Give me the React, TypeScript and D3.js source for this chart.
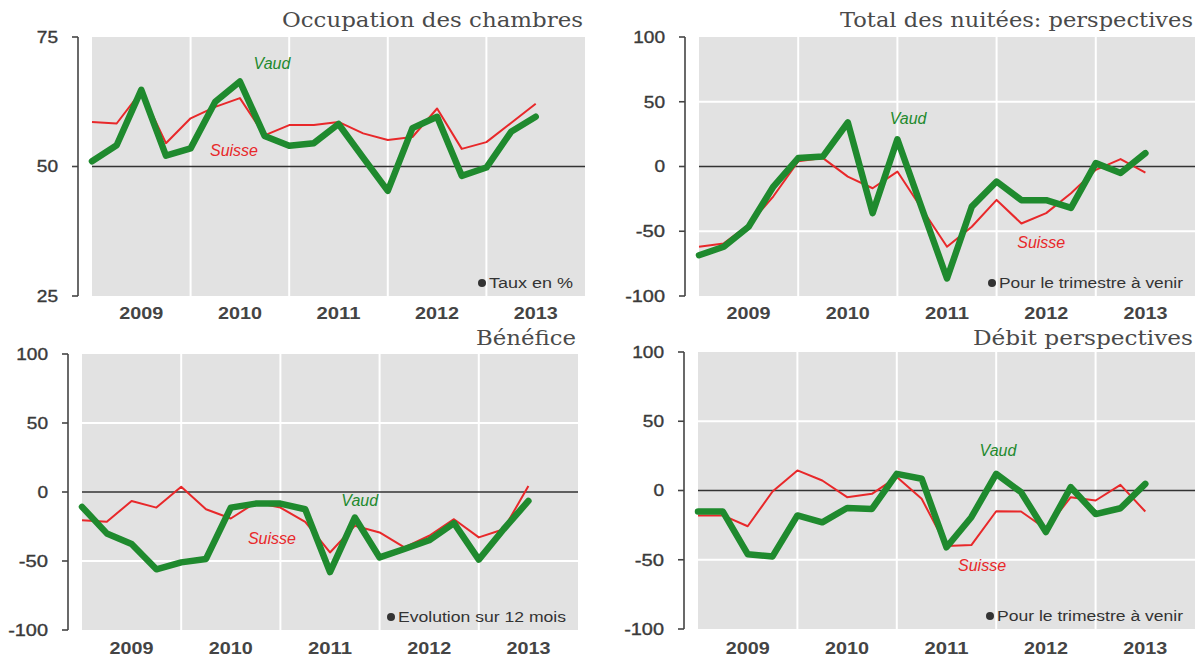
import React from 'react';
import * as d3 from 'd3';

// quarterly observations, 2009 T1 .. 2013 T3
const quarters = [
  '2009T1', '2009T2', '2009T3', '2009T4',
  '2010T1', '2010T2', '2010T3', '2010T4',
  '2011T1', '2011T2', '2011T3', '2011T4',
  '2012T1', '2012T2', '2012T3', '2012T4',
  '2013T1', '2013T2', '2013T3',
];
const years = ['2009', '2010', '2011', '2012', '2013'];

const occupationVaud = [51, 54.1, 64.8, 52.1, 53.5, 62.5, 66.4, 55.9, 54, 54.5, 58.2, 51.7, 45.3, 57.4, 59.6, 48.2, 49.8, 56.7, 59.6];
const occupationSuisse = [58.6, 58.3, 64.5, 54.5, 59.3, 61.5, 63.2, 56, 58, 58, 58.6, 56.4, 55.1, 55.7, 61.2, 53.4, 54.7, 58.4, 62.1];

const nuiteesVaud = [-68.5, -62, -46.5, -15.5, 6.5, 7.8, 34, -36, 21, -33, -86.5, -31, -11.6, -26, -26, -32, 2.6, -5, 10.3];
const nuiteesSuisse = [-62, -59.4, -45, -23, 4, 6.5, -7.8, -16.8, -3.9, -33, -62, -46.5, -25.8, -44, -36, -20.7, -2.6, 5.7, -4.7];

const beneficeVaud = [-10.8, -30, -37.7, -56, -51, -48.5, -11.3, -8.4, -8.4, -12.5, -58, -18.5, -47.4, -41.3, -35, -22.6, -49, -27, -6.5];
const beneficeSuisse = [-20.4, -21.6, -6.5, -11.3, 3.8, -12.5, -19.2, -7.7, -11.3, -21.6, -43.8, -24.5, -29.3, -40.1, -31.7, -19.7, -32.9, -27, 4.3];

const debitVaud = [-15.2, -15.2, -46, -47.6, -18, -23, -12.6, -13.3, 12, 8.5, -41, -19.3, 12, -1.2, -30, 2.4, -17, -12.8, 4.8];
const debitSuisse = [-18, -18, -25.8, -0.7, 14.5, 7.2, -4.8, -2.4, 9.7, -6, -40, -39.4, -15, -15.2, -27.8, -4.8, -7.2, 4.1, -15.2];

const GREEN = '#1f8a2e';
const RED = '#e8282a';
const BG = '#e2e2e2';
const TEXT = '#444';

interface PanelSpec {
  title: string;
  titleWidth: number;
  note: string;
  noteWidth: number;
  vaud: number[];
  suisse: number[];
  domain: [number, number];
  ticks: number[];
  refLine: number;
  grid: number[];
  left: number;
  right: number;
  top: number;
  bottom: number;
  axisX: number;
  titleY: number;
  yearY: number;
  vaudLabel: [number, number];
  suisseLabel: [number, number];
}

const panels: PanelSpec[] = [
  {
    title: 'Occupation des chambres', titleWidth: 301, note: 'Taux en %', noteWidth: 84,
    vaud: occupationVaud, suisse: occupationSuisse,
    domain: [25, 75], ticks: [25, 50, 75], refLine: 50, grid: [],
    left: 92, right: 585, top: 37, bottom: 296, axisX: 78, titleY: 27, yearY: 319,
    vaudLabel: [7.3, 70], suisseLabel: [5.76, 53.2],
  },
  {
    title: 'Total des nuitées: perspectives', titleWidth: 353, note: 'Pour le trimestre à venir', noteWidth: 184,
    vaud: nuiteesVaud, suisse: nuiteesSuisse,
    domain: [-100, 100], ticks: [-100, -50, 0, 50, 100], refLine: 0, grid: [-50, 50],
    left: 699, right: 1195, top: 37, bottom: 296, axisX: 685, titleY: 27, yearY: 319,
    vaudLabel: [8.43, 37.5], suisseLabel: [13.8, -58.3],
  },
  {
    title: 'Bénéfice', titleWidth: 100, note: 'Evolution sur 12 mois', noteWidth: 168,
    vaud: beneficeVaud, suisse: beneficeSuisse,
    domain: [-100, 100], ticks: [-100, -50, 0, 50, 100], refLine: 0, grid: [-50, 50],
    left: 82, right: 578, top: 354, bottom: 630, axisX: 68, titleY: 345, yearY: 654,
    vaudLabel: [11.2, -5.8], suisseLabel: [7.66, -33.3],
  },
  {
    title: 'Débit perspectives', titleWidth: 220, note: 'Pour le trimestre à venir', noteWidth: 186,
    vaud: debitVaud, suisse: debitSuisse,
    domain: [-100, 100], ticks: [-100, -50, 0, 50, 100], refLine: 0, grid: [-50, 50],
    left: 698, right: 1195, top: 352, bottom: 629, axisX: 684, titleY: 345, yearY: 654,
    vaudLabel: [12.07, 29.2], suisseLabel: [11.43, -53.8],
  },
];

// the source font is wider than Liberation Sans, so stretch the labels a bit
const tickWidth = (t: number) => String(Math.abs(t)).length * 10.6 + (t < 0 ? 8 : 0);

const Panel: React.FC<{ p: PanelSpec }> = ({ p }) => {
  // one year = 4 quarters, 5 years on the axis
  const x = d3.scaleLinear().domain([0, years.length * 4]).range([p.left, p.right]);
  const y = d3.scaleLinear().domain(p.domain).range([p.bottom, p.top]);
  const line = d3
    .line<number>()
    .x((_, i) => x(i))
    .y(d => y(d));

  const noteRight = p.right - 12;
  const noteY = p.bottom - 13;

  return (
    <g>
      <rect x={p.left} y={p.top} width={p.right - p.left} height={p.bottom - p.top} fill={BG} />
      {years.slice(1).map((yr, k) => (
        <line key={yr} x1={x((k + 1) * 4)} x2={x((k + 1) * 4)} y1={p.top} y2={p.bottom} stroke="#fff" strokeWidth={2} />
      ))}
      {p.grid.map(g => (
        <line key={g} x1={p.left} x2={p.right} y1={y(g)} y2={y(g)} stroke="#fff" strokeWidth={2} />
      ))}
      <line x1={p.left} x2={p.right} y1={y(p.refLine)} y2={y(p.refLine)} stroke="#333" strokeWidth={1.3} />

      {/* y axis */}
      <line x1={p.axisX} x2={p.axisX} y1={y(p.domain[1])} y2={y(p.domain[0])} stroke="#444" strokeWidth={1.6} />
      {p.ticks.map(t => (
        <g key={t}>
          <line x1={p.axisX - 6} x2={p.axisX} y1={y(t)} y2={y(t)} stroke="#444" strokeWidth={1.6} />
          <text
            x={p.axisX - 20 - tickWidth(t)}
            y={y(t)}
            dy="0.36em"
            textLength={tickWidth(t)}
            lengthAdjust="spacingAndGlyphs"
            fontFamily="Liberation Sans, Arial, sans-serif"
            fontSize={16}
            stroke="#3a3a3a"
            strokeWidth={0.35}
            fill="#3a3a3a"
          >
            {t}
          </text>
        </g>
      ))}

      {/* year labels */}
      {years.map((yr, k) => (
        <text
          key={yr}
          x={x(k * 4 + 2) - 22}
          y={p.yearY}
          textLength={44}
          lengthAdjust="spacingAndGlyphs"
          fontFamily="Liberation Sans, Arial, sans-serif"
          fontWeight="bold"
          fontSize={17}
          fill={TEXT}
        >
          {yr}
        </text>
      ))}

      <path d={line(p.suisse) || ''} fill="none" stroke={RED} strokeWidth={2} strokeLinejoin="round" />
      <path d={line(p.vaud) || ''} fill="none" stroke={GREEN} strokeWidth={6.5} strokeLinejoin="round" strokeLinecap="round" />

      <text
        x={x(p.vaudLabel[0])}
        y={y(p.vaudLabel[1])}
        dy="0.35em"
        textAnchor="middle"
        fontFamily="Liberation Sans, Arial, sans-serif"
        fontStyle="italic"
        fontSize={16}
        fill={GREEN}
      >
        Vaud
      </text>
      <text
        x={x(p.suisseLabel[0])}
        y={y(p.suisseLabel[1])}
        dy="0.35em"
        textAnchor="middle"
        fontFamily="Liberation Sans, Arial, sans-serif"
        fontStyle="italic"
        fontSize={16}
        fill={RED}
      >
        Suisse
      </text>

      {/* note */}
      <circle cx={noteRight - p.noteWidth - 7} cy={noteY} r={4} fill="#333" />
      <text
        x={noteRight - p.noteWidth}
        y={noteY}
        dy="0.36em"
        textLength={p.noteWidth}
        lengthAdjust="spacingAndGlyphs"
        fontFamily="Liberation Sans, Arial, sans-serif"
        fontSize={14}
        fill="#333"
      >
        {p.note}
      </text>

      <text
        x={p.right - 2 - p.titleWidth}
        y={p.titleY}
        textLength={p.titleWidth}
        lengthAdjust="spacingAndGlyphs"
        fontFamily="DejaVu Serif, serif"
        fontSize={20}
        fill="#4a4a4a"
      >
        {p.title}
      </text>
    </g>
  );
};

export default function App() {
  return (
    <svg
      width={1202}
      height={657}
      viewBox="0 0 1202 657"
      style={{ position: 'absolute', left: 0, top: 0, background: '#fff', display: 'block' }}
    >
      {panels.map(p => (
        <Panel key={p.title} p={p} />
      ))}
      <desc>{quarters.join(' ')}</desc>
    </svg>
  );
}
